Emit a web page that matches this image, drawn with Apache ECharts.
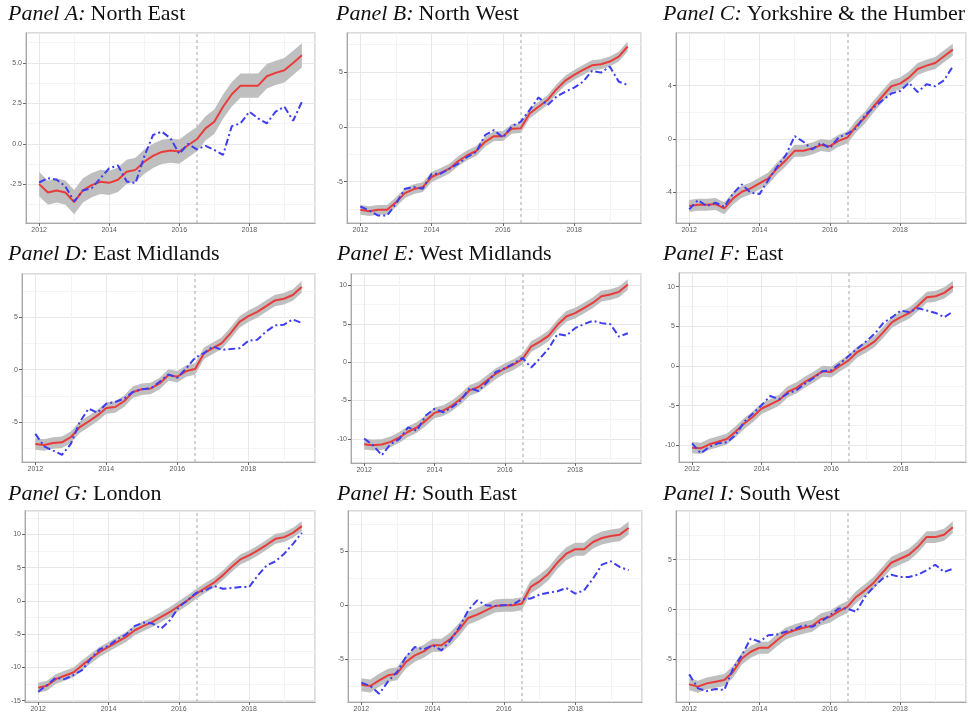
<!DOCTYPE html>
<html>
<head>
<meta charset="utf-8">
<script src="https://cdn.jsdelivr.net/npm/echarts@6/dist/echarts.min.js"></script>
<style>
html,body{margin:0;padding:0;background:#fff;}
#chart{width:971px;height:715px;}
</style>
</head>
<body>
<div id="chart"></div>
<script>
// ---------- DATA ----------
const quarters = [2012, 2012.25, 2012.5, 2012.75, 2013, 2013.25, 2013.5, 2013.75,
  2014, 2014.25, 2014.5, 2014.75, 2015, 2015.25, 2015.5, 2015.75,
  2016, 2016.25, 2016.5, 2016.75, 2017, 2017.25, 2017.5, 2017.75,
  2018, 2018.25, 2018.5, 2018.75, 2019, 2019.25, 2019.5];
const referendum = 2016.5;

const panelLetters = ['A', 'B', 'C', 'D', 'E', 'F', 'G', 'H', 'I'];
const regionNames = ['North East', 'North West', 'Yorkshire & the Humber',
  'East Midlands', 'West Midlands', 'East', 'London', 'South East', 'South West'];

// synthetic (red) and actual (blue, dash-dot) series
const synthA = [-2.48,-3.0,-2.87,-3.0,-3.59,-2.87,-2.54,-2.34,-2.4,-2.21,-1.72,-1.6,-1.1,-0.74,-0.49,-0.41,-0.47,-0.08,0.29,0.96,1.37,2.3,3.07,3.6,3.6,3.6,4.18,4.39,4.55,5.0,5.47];
const actualA = [-2.38,-2.11,-2.21,-2.62,-3.55,-2.87,-2.73,-2.11,-1.5,-1.33,-2.32,-2.42,-0.78,0.55,0.76,0.35,-0.61,0.0,-0.33,-0.12,-0.37,-0.68,1.1,1.27,1.99,1.58,1.27,1.99,2.3,1.43,2.6];

const synthB = [-7.56,-7.68,-7.56,-7.56,-6.86,-6.04,-5.67,-5.49,-4.57,-4.2,-3.81,-3.11,-2.59,-2.2,-1.37,-0.85,-0.85,-0.18,-0.12,1.22,1.83,2.44,3.41,4.21,4.73,5.18,5.61,5.7,5.95,6.4,7.32];
const actualB = [-7.26,-7.62,-8.08,-8.08,-7.01,-5.64,-5.49,-5.64,-4.27,-4.27,-3.81,-3.35,-2.74,-2.29,-0.76,-0.3,-0.98,0.06,0.46,1.52,2.68,1.98,2.74,3.2,3.57,4.12,5.09,4.94,5.49,4.12,3.81];

const synthC = [-5.05,-4.95,-4.95,-4.9,-5.22,-4.47,-3.97,-3.72,-3.35,-2.97,-2.22,-1.6,-0.9,-0.9,-0.72,-0.47,-0.55,-0.15,0.1,0.95,1.6,2.45,3.2,3.95,4.15,4.6,5.25,5.5,5.7,6.2,6.7];
const actualC = [-5.3,-4.6,-5.05,-4.8,-5.1,-4.1,-3.42,-4.05,-4.15,-3.1,-2.1,-1.22,0.2,-0.22,-0.8,-0.3,-0.7,0.1,0.4,0.78,1.78,2.35,2.9,3.4,3.6,4.2,3.52,4.1,3.95,4.4,5.45];

const synthD = [-7.08,-7.18,-6.99,-6.92,-6.44,-5.48,-4.94,-4.36,-3.65,-3.56,-3.01,-2.12,-1.86,-1.79,-1.31,-0.51,-0.67,-0.13,0.06,1.57,2.05,2.53,3.49,4.55,5.1,5.51,6.06,6.6,6.76,7.12,7.88];
const actualD = [-6.12,-7.31,-7.72,-8.11,-7.08,-5.0,-3.72,-4.1,-3.24,-3.08,-2.76,-2.12,-1.86,-1.79,-1.15,-0.45,-0.77,0.13,1.15,1.57,2.21,1.89,1.96,2.05,2.76,2.85,3.65,4.23,4.29,4.78,4.46];

const synthE = [-10.7,-10.83,-10.75,-10.4,-9.82,-9.08,-8.51,-7.63,-6.62,-6.32,-5.66,-4.78,-3.68,-3.25,-2.37,-1.49,-0.83,-0.31,0.39,2.02,2.68,3.46,4.87,5.96,6.4,7.06,7.72,8.6,8.82,9.17,10.13];
const actualE = [-9.96,-10.83,-12.15,-10.7,-10.04,-8.51,-8.95,-6.97,-6.1,-6.54,-5.88,-5.0,-3.38,-3.77,-2.59,-1.27,-0.83,-0.18,0.57,-0.7,0.48,1.8,3.68,3.46,4.43,4.96,5.39,5.09,4.96,3.33,3.77];

const synthF = [-10.29,-10.38,-9.87,-9.54,-9.21,-8.28,-7.24,-6.4,-5.36,-4.85,-4.31,-3.26,-2.76,-2.01,-1.38,-0.67,-0.75,0.0,0.71,1.76,2.38,3.1,4.27,5.52,6.15,6.69,7.62,8.66,8.79,9.21,10.04];
const actualF = [-9.75,-11.0,-10.17,-9.75,-9.62,-8.7,-7.03,-5.98,-4.94,-3.77,-4.18,-3.47,-3.05,-2.22,-1.51,-0.67,-0.54,0.29,1.26,2.18,3.1,4.06,5.44,6.15,6.99,6.78,7.28,6.99,6.69,6.15,6.86];

const synthG = [-13.05,-12.75,-11.75,-11.25,-10.75,-9.65,-8.65,-7.65,-6.9,-6.15,-5.4,-4.4,-3.75,-3.15,-2.4,-1.65,-0.75,0.1,1.1,1.95,2.75,3.85,5.1,6.25,6.85,7.6,8.45,9.35,9.6,10.25,11.25];
const actualG = [-13.65,-12.65,-11.55,-11.75,-11.15,-10.4,-8.65,-7.25,-6.75,-5.75,-5.05,-3.75,-3.25,-3.4,-4.15,-2.9,-0.9,0.1,1.25,1.6,2.25,1.85,1.95,2.1,2.1,3.85,5.35,5.95,7.1,8.6,10.25];

const synthH = [-7.35,-7.47,-6.94,-6.48,-6.33,-5.25,-4.63,-4.26,-3.7,-3.7,-3.09,-2.22,-1.17,-0.86,-0.46,-0.06,0.0,0.0,0.15,1.7,2.22,2.93,3.95,4.78,5.19,5.19,5.86,6.23,6.42,6.54,7.16];
const actualH = [-7.16,-7.47,-8.18,-7.04,-6.17,-4.78,-3.86,-4.07,-3.7,-4.17,-3.24,-2.01,-0.46,0.46,0.0,-0.06,0.0,0.06,0.56,0.62,0.99,1.17,1.3,1.6,1.08,1.39,2.47,3.77,4.07,3.55,3.24];

const synthI = [-7.5,-7.73,-7.4,-7.23,-7.07,-6.23,-4.9,-4.23,-3.83,-3.83,-3.07,-2.4,-2.07,-1.83,-1.63,-0.97,-0.73,-0.17,0.27,1.27,1.93,2.7,3.7,4.7,5.1,5.5,6.27,7.27,7.27,7.5,8.27];
const actualI = [-6.5,-7.9,-8.17,-7.97,-8.07,-5.9,-4.57,-2.9,-3.23,-2.57,-2.5,-2.23,-1.97,-1.57,-1.73,-1.23,-0.57,0.1,0.1,-0.23,1.27,2.27,3.1,3.5,3.27,3.27,3.5,3.93,4.5,3.77,4.1];

// half-width of the grey confidence band (read per panel)
const bandHalf = [0.75, 0.45, 0.45, 0.55, 0.7, 0.7, 0.75, 0.6, 0.6];

// y-axis ranges, tick steps and label decimals per panel
const yMin = [-4.88, -8.76, -6.32, -8.8, -13.16, -12.1, -15.19, -8.95, -9.27];
const yMax = [6.85, 8.55, 7.95, 9.12, 11.5, 11.72, 13.53, 8.73, 9.89];
const yStep = [2.5, 5, 4, 5, 5, 5, 5, 5, 5];
const yDecimals = [1, 0, 0, 0, 0, 0, 0, 0, 0];

const synthAll = [synthA, synthB, synthC, synthD, synthE, synthF, synthG, synthH, synthI];
const actualAll = [actualA, actualB, actualC, actualD, actualE, actualF, actualG, actualH, actualI];

// ---------- LAYOUT ----------
const gridBoxes = [
  {left: 26, top: 33, width: 289, height: 190},
  {left: 347, top: 33, width: 294, height: 190},
  {left: 676, top: 33, width: 290, height: 190},
  {left: 22, top: 274, width: 293, height: 188},
  {left: 351, top: 274, width: 290, height: 189},
  {left: 679, top: 273, width: 287, height: 189},
  {left: 25, top: 511, width: 290, height: 191},
  {left: 348, top: 511, width: 294, height: 191},
  {left: 676, top: 511, width: 290, height: 191}
];
const titlePos = [
  {left: 8, top: 3}, {left: 336, top: 3}, {left: 663, top: 3},
  {left: 8, top: 243}, {left: 337, top: 243}, {left: 663, top: 243},
  {left: 8, top: 483}, {left: 337, top: 483}, {left: 663, top: 483}
];

const grids = [], xAxes = [], yAxes = [], series = [], titles = [];
const labelStyle = {fontSize: 7, color: '#5a5a5a', fontFamily: 'Liberation Sans, Arial, sans-serif'};

for (let i = 0; i < 9; i++) {
  const g = gridBoxes[i];
  grids.push(Object.assign({show: true, borderColor: '#d0d0d0', borderWidth: 1.5, backgroundColor: '#fff', containLabel: false}, g));
  titles.push({
    text: '{i|Panel ' + panelLetters[i] + ':} {n|' + regionNames[i] + '}',
    left: titlePos[i].left, top: titlePos[i].top, padding: 0,
    textStyle: {
      fontWeight: 'normal',
      rich: {
        i: {fontFamily: 'Liberation Serif, serif', fontStyle: 'italic', fontWeight: 'normal', fontSize: 22, color: '#111'},
        n: {fontFamily: 'Liberation Serif, serif', fontWeight: 'normal', fontSize: 22, color: '#111'}
      }
    }
  });
  xAxes.push({
    type: 'value', gridIndex: i, min: 2011.625, max: 2019.875,
    minInterval: 2, maxInterval: 2, splitNumber: 4,
    axisLine: {show: true, onZero: false, lineStyle: {color: '#a8a8a8', width: 1}},
    axisTick: {show: true, length: 3, lineStyle: {color: '#666'}},
    axisLabel: Object.assign({margin: 4, showMinLabel: false, showMaxLabel: false,
      formatter: v => String(Math.round(v))}, labelStyle),
    splitLine: {show: true, lineStyle: {color: '#e8e8e8', width: 1}},
    minorTick: {show: false, splitNumber: 2},
    minorSplitLine: {show: true, lineStyle: {color: '#f4f4f4', width: 1}}
  });
  const dec = yDecimals[i];
  yAxes.push({
    type: 'value', gridIndex: i, min: yMin[i], max: yMax[i],
    minInterval: yStep[i], maxInterval: yStep[i], splitNumber: 4,
    axisLine: {show: true, onZero: false, lineStyle: {color: '#a8a8a8', width: 1}},
    axisTick: {show: true, length: 3, lineStyle: {color: '#666'}},
    axisLabel: Object.assign({margin: 4, showMinLabel: false, showMaxLabel: false,
      formatter: v => v.toFixed(dec)}, labelStyle),
    splitLine: {show: true, lineStyle: {color: '#e8e8e8', width: 1}},
    minorTick: {show: false, splitNumber: 2},
    minorSplitLine: {show: true, lineStyle: {color: '#f4f4f4', width: 1}}
  });

  const s = synthAll[i], a = actualAll[i], h = bandHalf[i];
  const bandData = quarters.map((x, k) => [x, s[k] - h, s[k] + h]);
  series.push({
    type: 'custom', xAxisIndex: i, yAxisIndex: i, silent: true, z: 1,
    data: bandData,
    encode: {x: 0, y: [1, 2]},
    renderItem: function (params, api) {
      if (params.dataIndex !== 0) return null;
      const pts = [];
      for (let k = 0; k < bandData.length; k++) pts.push(api.coord([bandData[k][0], bandData[k][2]]));
      for (let k = bandData.length - 1; k >= 0; k--) pts.push(api.coord([bandData[k][0], bandData[k][1]]));
      return {type: 'polygon', shape: {points: pts}, style: {fill: '#bfbfbf', stroke: null}};
    }
  });
  series.push({
    type: 'line', xAxisIndex: i, yAxisIndex: i, silent: true, symbol: 'none', z: 3,
    lineStyle: {color: '#ea3b3b', width: 2},
    data: quarters.map((x, k) => [x, s[k]]),
    markLine: {
      silent: true, symbol: 'none', label: {show: false},
      lineStyle: {color: '#c4c4c4', type: [3, 3], width: 1.5},
      data: [{xAxis: referendum}], z: 2
    }
  });
  series.push({
    type: 'line', xAxisIndex: i, yAxisIndex: i, silent: true, symbol: 'none', z: 4,
    lineStyle: {color: '#3d3df2', width: 2, type: [7, 3, 2, 3]},
    data: quarters.map((x, k) => [x, a[k]])
  });
}

const chart = echarts.init(document.getElementById('chart'), null, {renderer: 'canvas'});
chart.setOption({
  animation: false,
  backgroundColor: '#fff',
  title: titles,
  grid: grids,
  xAxis: xAxes,
  yAxis: yAxes,
  series: series
});
</script>
</body>
</html>
